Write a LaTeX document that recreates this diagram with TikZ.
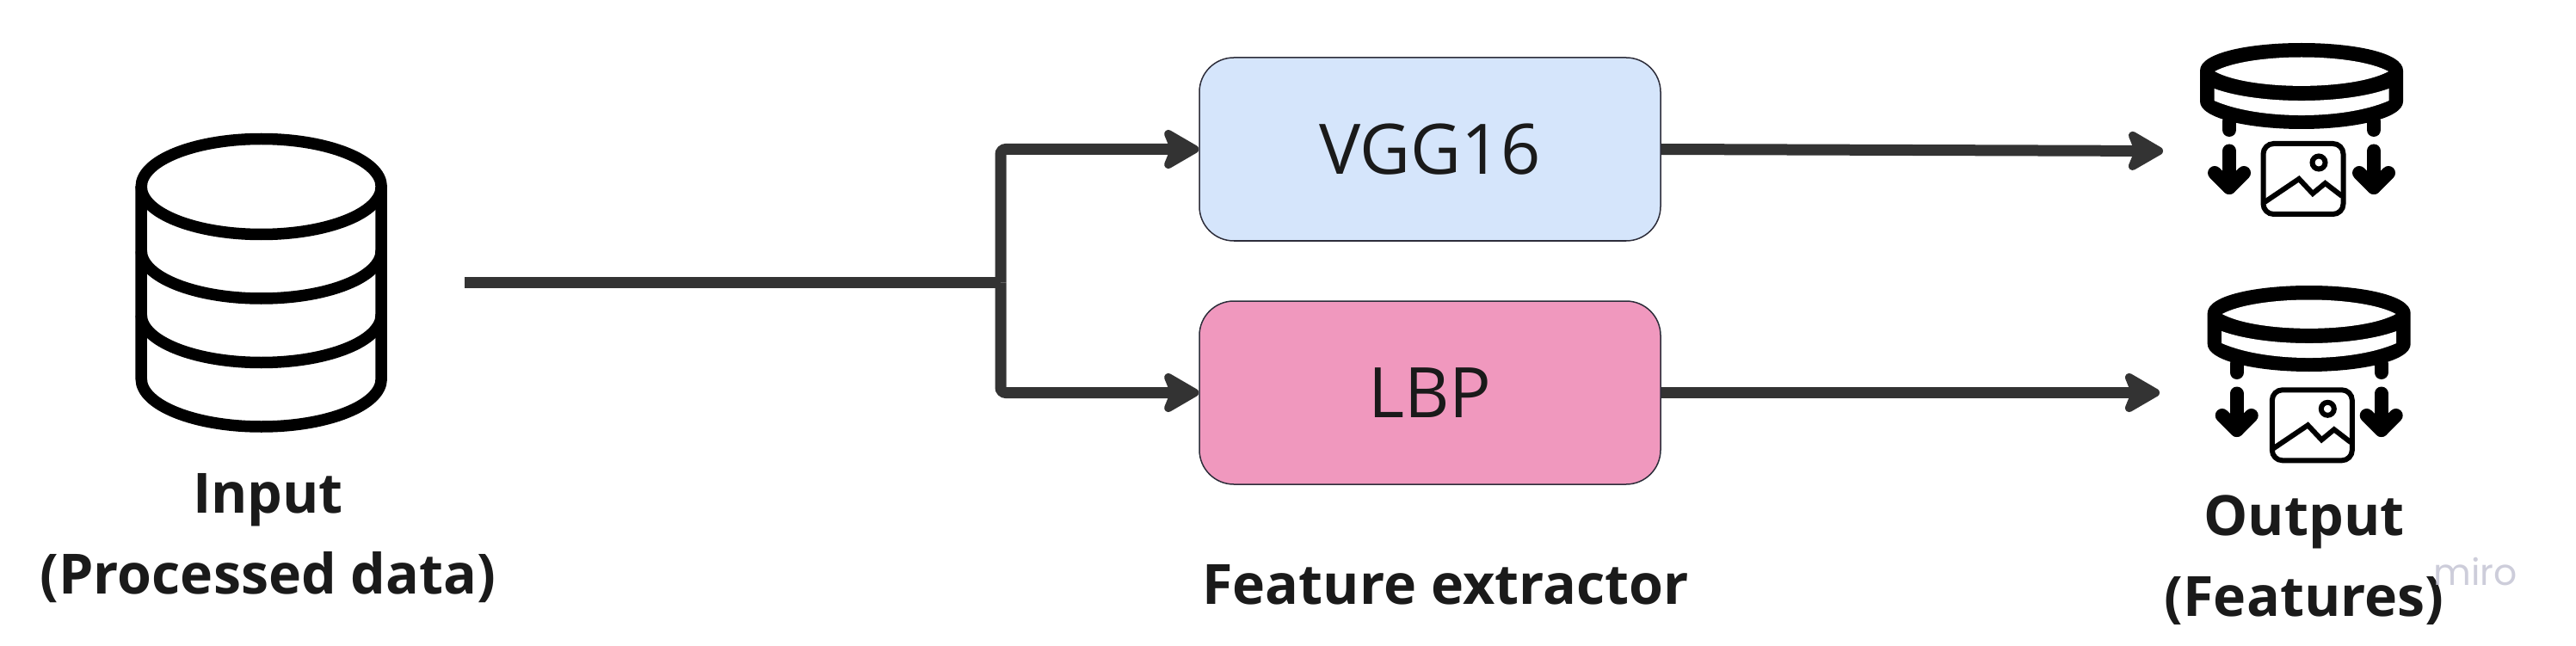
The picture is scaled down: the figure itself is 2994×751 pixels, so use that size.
\documentclass[tikz,border=0pt]{standalone}
\usepackage{fontspec}
\setmainfont{Open Sans}
\newfontfamily\mirofont{Poppins}
\usetikzlibrary{arrows.meta}

\definecolor{linegray}{HTML}{333333}
\definecolor{textgray}{HTML}{1A1A1A}
\definecolor{vggblue}{HTML}{D5E5FB}
\definecolor{lbppink}{HTML}{F098BE}
\definecolor{boxedge}{HTML}{2D2D3A}
\definecolor{mirogray}{HTML}{C4C4D4}

\tikzset{
  conn/.style={draw=linegray, line width=13pt, -{Stealth[length=49pt,width=56pt,inset=11pt,round]}},
  feature/.style={draw=boxedge, line width=1.5pt, rounded corners=40pt, minimum width=536pt, minimum height=213pt, font=\fontsize{81}{96}\selectfont, text=textgray},
  caption/.style={align=center, text=textgray, font=\fontsize{64.5}{94}\selectfont\bfseries},
  cylinder icon/.pic={
    % Outer body
    \fill (-118,-1) .. controls (-118,-22) and (-60,-33) .. (0,-33) .. controls (60,-33) and (118,-22) .. (118,-1) -- (118,35) .. controls (118,55) and (60,67) .. (0,67) .. controls (-60,67) and (-118,55) .. (-118,35) -- cycle;
    % Top opening and side band
    \fill[white] (-101,0) .. controls (-60,-22) and (60,-22) .. (101,0) .. controls (60,22.5) and (-60,22.5) .. (-101,0) -- cycle;
    \fill[white] (-101.5,20) .. controls (-50,38.7) and (50,38.7) .. (101.5,20) -- (101.5,34) .. controls (50,56.7) and (-50,56.7) .. (-101.5,34) -- cycle;
    % Legs
    \draw[line width=16pt, line cap=round] (-84,58) -- (-84,68);
    \draw[line width=16pt, line cap=round] (84,58) -- (84,68);
    % Arrows
    \draw[line width=16pt, line cap=round, line join=round] (-84,92.5) -- (-84,135);
    \draw[line width=16pt, line cap=round, line join=round] (-101,118) -- (-84,135) -- (-67,118);
    \draw[line width=16pt, line cap=round] (84,92.5) -- (84,135);
    \draw[line width=16pt, line cap=round, line join=round] (67,118) -- (84,135) -- (101,118);
  },
  picture icon/.pic={
    \draw[line width=6pt, rounded corners=12pt] (-46.5,-41) rectangle (46.5,41);
    \draw[line width=6pt] (18,-19) circle (7.5);
    \draw[line width=6pt] (-45,27) -- (-5,0) -- (11,17) -- (25.5,5) -- (45,20);
  },
}

\begin{document}
\begin{tikzpicture}[x=1pt, y=-1pt]
\useasboundingbox (0,0) rectangle (2994,751);

% Define the free ends of the connectors
\coordinate (inputend) at (540,328.5);
\coordinate (split) at (1163,328.5);
\coordinate (vggout) at (2514,175.5);
\coordinate (lbpout) at (2510,456.5);

% Draw the input database
\draw[line width=13.5pt] (303.7,217) ellipse [x radius=139.5, y radius=55.5];
\draw[line width=13.5pt] (164.2,217) -- (164.2,440.5) arc [start angle=180, end angle=0, x radius=139.5, y radius=55.5] -- (443.2,217);
\draw[line width=13.5pt] (164.2,291.5) arc [start angle=180, end angle=0, x radius=139.5, y radius=55.5];
\draw[line width=13.5pt] (164.2,366) arc [start angle=180, end angle=0, x radius=139.5, y radius=55.5];

% Draw the feature extractor boxes
\node[feature, fill=vggblue] (vgg) at (1662,173.5) {VGG16};
\node[feature, fill=lbppink] (lbp) at (1662,456.5) {LBP};

% Draw the connectors
\draw[line width=13pt, draw=linegray] (inputend) -- (split);
\draw[conn, rounded corners=6pt] (split) |- (vgg.west);
\draw[conn, rounded corners=6pt] (split) |- (lbp.west);
\draw[conn] (vgg.east) -- (vggout);
\draw[conn] (lbp.east) -- (lbpout);

% Draw the output icons
\pic at (2675,83) {cylinder icon};
\pic at (2677,208) {picture icon};
\pic at (2683.7,365) {cylinder icon};
\pic at (2687.3,494.3) {picture icon};

% Add the captions
\node[caption] (inputlabel) at (311.5,625.5) {Input\\(Processed data)};
\node[caption] (extractorlabel) at (1680,680) {Feature extractor};
\begin{scope}
\clip (0,0) rectangle (2994,725);
\node[caption] (outputlabel) at (2678,651) {Output\\(Features)};
\end{scope}
\node[text=mirogray, opacity=0.85, font=\fontsize{42.5}{48}\mirofont] (watermark) at (2877,665) {miro};

\end{tikzpicture}
\end{document}
